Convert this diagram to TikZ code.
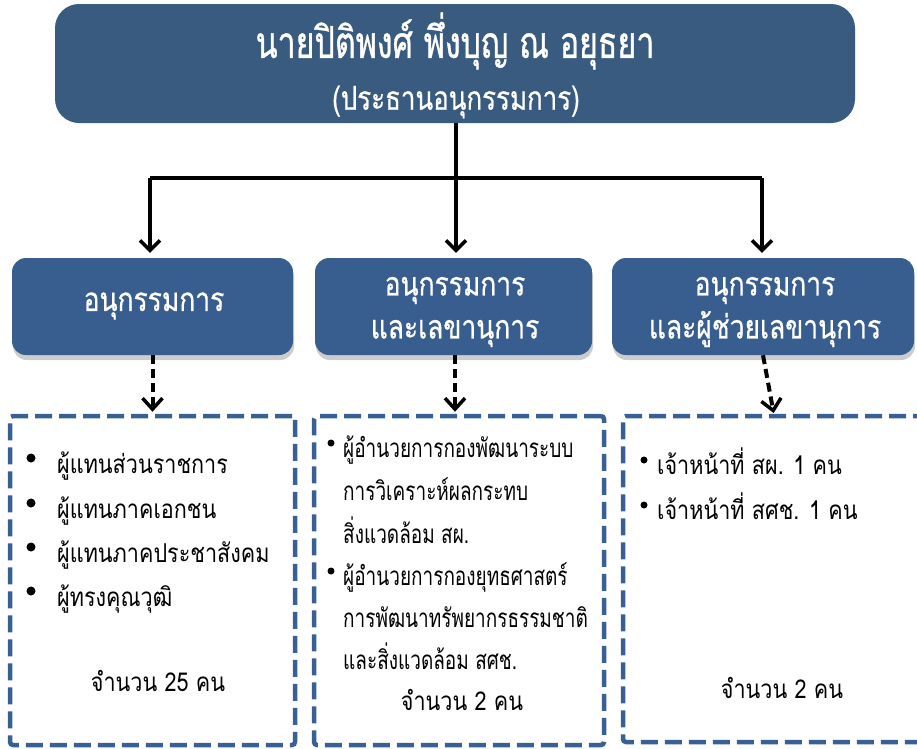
\documentclass[tikz,border=0pt]{standalone}
\usepackage{fontspec}
\newfontfamily\thaibody[Script=Thai,FakeStretch=0.83]{Loma}
\newfontfamily\thainarrow[Script=Thai,FakeStretch=0.73]{Loma}
\newfontfamily\thaititle[Script=Thai,FakeStretch=0.73,FakeBold=0.8]{Loma}
\newfontfamily\thaisub[Script=Thai,FakeStretch=0.785,FakeBold=0.6]{Loma}
\newfontfamily\thaibox[Script=Thai,FakeStretch=0.8,FakeBold=0.6]{Loma}
\usetikzlibrary{arrows.meta,shadows}
\definecolor{boxblue}{RGB}{57,91,128}
\definecolor{midblue}{RGB}{55,94,142}
\definecolor{dashblue}{RGB}{56,96,148}
\begin{document}
\begin{tikzpicture}[x=1pt,y=-1pt,
  headbox/.style={fill=boxblue, rounded corners=24pt, inner sep=0pt,
    minimum width=800pt, minimum height=119pt},
  midbox/.style={fill=midblue, rounded corners=14pt, inner sep=0pt, minimum height=97pt,
    drop shadow={opacity=0.4, shadow xshift=1pt, shadow yshift=-5pt}},
  boxtext/.style={text=white, align=center, inner sep=0pt,
    font=\thaibox\fontsize{33}{43}\selectfont},
  dashbox/.style={draw=dashblue, line width=4.5pt, dash pattern=on 17pt off 7pt,
    rounded corners=3pt, inner sep=0pt, minimum height=329pt},
  tree/.style={line width=3.5pt, -{Straight Barb[length=10pt,width=20pt,line width=3.5pt]}},
  dasharrow/.style={line width=4pt, dash pattern=on 9pt off 5pt,
    -{Straight Barb[length=11pt,width=20pt,line width=3.5pt]}},
  bodytext/.style={font=\thaibody\fontsize{26}{30}\selectfont, anchor=base west, inner sep=0pt},
  narrowtext/.style={font=\thainarrow\fontsize{26}{30}\selectfont, anchor=base west, inner sep=0pt},
  counttext/.style={font=\thaibody\fontsize{26}{30}\selectfont, anchor=base, inner sep=0pt},
  bigdot/.style={circle, fill=black, inner sep=0pt, minimum size=9pt},
  smalldot/.style={circle, fill=black, inner sep=0pt, minimum size=7pt}
]
\useasboundingbox (0,0) rectangle (917,748);
\clip (0,0) rectangle (917,748);

% top box
\node[headbox] (top) at (455,63.5) {};
\node[text=white, font=\thaititle\fontsize{44}{50}\selectfont, inner sep=0pt] (title) at (455,41) {นายปิติพงศ์ พึ่งบุญ ณ อยุธยา};
\node[text=white, font=\thaisub\fontsize{33}{40}\selectfont, inner sep=0pt] (sub) at (456,102) {(ประธานอนุกรรมการ)};

% middle boxes
\node[midbox, minimum width=281pt] (b1) at (152.5,306.5) {};
\node[midbox, minimum width=277pt] (b2) at (453.5,306.5) {};
\node[midbox, minimum width=302pt] (b3) at (763,306.5) {};
\node[boxtext] (n1) at (154,306) {อนุกรรมการ};
\node[boxtext] (n2) at (455,312) {อนุกรรมการ\\และเลขานุการ};
\node[boxtext] (n3) at (765,312) {อนุกรรมการ\\และผู้ช่วยเลขานุการ};

% dashed boxes
\node[dashbox, minimum width=285pt] (d1) at (152.5,580.5) {};
\node[dashbox, minimum width=290pt] (d2) at (459,580.5) {};
\node[dashbox, minimum width=310pt, minimum height=326pt] (d3) at (778,579) {};

% tree connectors
\coordinate (j) at (456,178);
\coordinate (jl) at (150,178);
\coordinate (jr) at (762,178);
\draw[line width=3.5pt] (top.south -| j) -- (j);
\draw[line width=3.5pt] (jl) -- (jr);
\draw[tree, shorten >=5pt] (jl) -- (b1.north -| jl);
\draw[tree, shorten >=5pt] (j) -- (b2.north -| j);
\draw[tree, shorten >=5pt] (jr) -- (b3.north -| jr);

% dashed arrows
\draw[dasharrow, shorten >=2pt] (b1.south) -- (d1.north -| b1.south);
\draw[dasharrow, shorten >=2pt] (b2.south -| 455,0) -- (d2.north -| 455,0);
\draw[dasharrow, shorten >=2pt] (b3.south) -- (774,415);

% box 1 texts
\node[bigdot] (p1) at (31,458) {};
\node[bodytext] (t11) at (57,473) {ผู้แทนส่วนราชการ};
\node[bigdot] (p2) at (31,503) {};
\node[bodytext] (t12) at (57,518) {ผู้แทนภาคเอกชน};
\node[bigdot] (p3) at (31,547) {};
\node[bodytext] (t13) at (57,562) {ผู้แทนภาคประชาสังคม};
\node[bigdot] (p4) at (31,591) {};
\node[bodytext] (t14) at (57,606) {ผู้ทรงคุณวุฒิ};
\node[counttext] (c1) at (158,691) {จำนวน 25 คน};

% box 2 texts
\node[smalldot] (q1) at (331,443) {};
\node[narrowtext] (t21) at (343,457) {ผู้อำนวยการกองพัฒนาระบบ};
\node[narrowtext] (t22) at (343,500) {การวิเคราะห์ผลกระทบ};
\node[narrowtext] (t23) at (343,543) {สิ่งแวดล้อม สผ.};
\node[smalldot] (q2) at (331,571) {};
\node[narrowtext] (t24) at (343,585) {ผู้อำนวยการกองยุทธศาสตร์};
\node[narrowtext] (t25) at (343,627) {การพัฒนาทรัพยากรธรรมชาติ};
\node[narrowtext] (t26) at (343,669) {และสิ่งแวดล้อม สศช.};
\node[counttext] (c2) at (462,710) {จำนวน 2 คน};

% box 3 texts
\node[smalldot] (r1) at (644,460) {};
\node[bodytext] (t31) at (657,474) {เจ้าหน้าที่ สผ. 1 คน};
\node[smalldot] (r2) at (644,505) {};
\node[bodytext] (t32) at (657,519) {เจ้าหน้าที่ สศช. 1 คน};
\node[counttext] (c3) at (782,698) {จำนวน 2 คน};
\end{tikzpicture}
\end{document}
